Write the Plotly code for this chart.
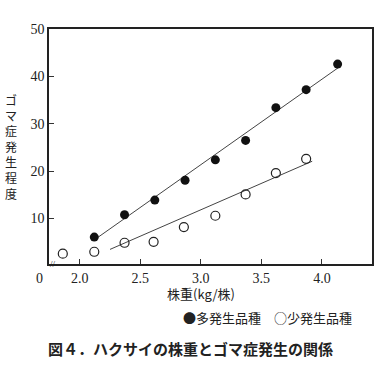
import plotly.graph_objects as go

# Data
many_x = [2.12, 2.37, 2.62, 2.87, 3.12, 3.37, 3.62, 3.87, 4.13]
many_y = [6.1, 10.8, 13.9, 18.1, 22.4, 26.5, 33.4, 37.2, 42.6]
few_x = [1.86, 2.12, 2.37, 2.61, 2.86, 3.12, 3.37, 3.62, 3.87]
few_y = [2.6, 3.0, 4.9, 5.1, 8.2, 10.6, 15.1, 19.6, 22.6]
many_fit_x = [2.12, 4.15]
many_fit_y = [5.5, 42.1]
few_fit_x = [2.25, 3.92]
few_fit_y = [3.5, 22.1]

x_ticks = [2.0, 2.5, 3.0, 3.5, 4.0]
x_ticktext = ["2.0", "2.5", "3.0", "3.5", "4.0"]
y_ticks = [10, 20, 30, 40, 50]

ytitle = "ゴマ症発生程度"
xtitle = "株重(kg/株)"
legend_text = "●多発生品種　○少発生品種"
caption = "図４．ハクサイの株重とゴマ症発生の関係"

serif = "Liberation Serif, serif"
jp = "Noto Sans CJK JP"
ink = "#222222"

W, H = 386, 377
ML, MR, MT, MB = 49, 14, 29, 113

fig = go.Figure()
fig.add_trace(go.Scatter(x=many_fit_x, y=many_fit_y, mode="lines",
                         line=dict(color="#444444", width=1), showlegend=False))
fig.add_trace(go.Scatter(x=few_fit_x, y=few_fit_y, mode="lines",
                         line=dict(color="#444444", width=1), showlegend=False))
fig.add_trace(go.Scatter(x=many_x, y=many_y, mode="markers",
                         marker=dict(symbol="circle", size=9, color="#111111"),
                         showlegend=False))
fig.add_trace(go.Scatter(x=few_x, y=few_y, mode="markers",
                         marker=dict(symbol="circle-open", size=9, color="#222222",
                                     line=dict(width=1.2)),
                         showlegend=False))

fig.update_layout(
    width=W, height=H,
    margin=dict(l=ML, r=MR, t=MT, b=MB),
    paper_bgcolor="white", plot_bgcolor="white",
    font=dict(family=serif, color=ink, size=13),
    xaxis=dict(range=[1.746, 4.414], tickvals=x_ticks, ticktext=x_ticktext,
               ticks="inside", ticklen=5, tickcolor="#333", tickwidth=1,
               showline=True, linecolor="#222", linewidth=1.5, mirror=True,
               showgrid=False, zeroline=False,
               tickfont=dict(family=serif, size=14, color=ink)),
    yaxis=dict(range=[0.42, 50], tickvals=y_ticks,
               ticks="inside", ticklen=5, tickcolor="#333", tickwidth=1,
               showline=True, linecolor="#222", linewidth=1.5, mirror=True,
               showgrid=False, zeroline=False,
               tickfont=dict(family=serif, size=14, color=ink)),
)

pw = W - ML - MR
ph = H - MT - MB


def add_px(text, px, py, font):
    fig.add_annotation(x=(px - ML) / pw, y=(H - MB - py) / ph,
                       xref="paper", yref="paper", showarrow=False,
                       xanchor="center", yanchor="middle", text=text, font=font)


add_px("<br>".join(list(ytitle)), 11, 146, dict(family=jp, size=12, color=ink))
add_px(xtitle, 201, 293, dict(family=jp, size=13, color=ink))
add_px("0", 39, 278, dict(family=serif, size=14, color=ink))
add_px("//", 53, 264, dict(family=serif, size=9, color=ink))
add_px(legend_text, 267, 317, dict(family=jp, size=13, color=ink))
add_px("<b>" + caption + "</b>", 190, 348, dict(family=jp, size=15, color="#222"))

fig.write_html("out.html", config={"displayModeBar": False},
               post_script="document.body.style.margin='0';")
